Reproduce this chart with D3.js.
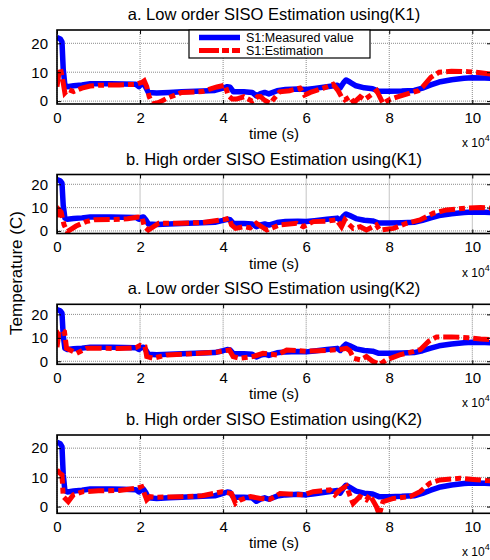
<!DOCTYPE html>
<html>
<head>
<meta charset="utf-8">
<script src="https://cdn.jsdelivr.net/npm/d3@7"></script>
<style>
  html, body { margin: 0; padding: 0; background: #fff; }
  svg { display: block; font-family: "Liberation Sans", Arial, sans-serif; }
</style>
</head>
<body>
<svg id="chart" width="490" height="560"></svg>
<script>
// Time axis in units of 10^4 s
const timeTicks = [0, 2, 4, 6, 8, 10];
const tempTicks = [0, 10, 20];

const panelTitles = [
  "a. Low order SISO Estimation using(K1)",
  "b. High order SISO Estimation using(K1)",
  "a. Low order SISO Estimation using(K2)",
  "b. High order SISO Estimation using(K2)"
];
const panelYLimits = [[-1, 24.6], [-1.1, 24.2], [-1.3, 24.3], [-2.3, 24.5]];

// S1 measured temperature (shared by every panel)
const measuredTime = [0, 0.08, 0.12, 0.15, 0.19, 0.25, 0.4, 0.6, 0.8, 1.0, 1.3, 1.6, 1.9, 1.97, 2.03, 2.08, 2.13, 2.2, 2.4, 2.7, 3.0, 3.5, 3.8, 4.0, 4.1, 4.17, 4.25, 4.5, 4.7, 4.8, 4.9, 5.0, 5.1, 5.3, 5.5, 5.8, 6.0, 6.2, 6.5, 6.75, 6.82, 6.9, 6.96, 7.05, 7.2, 7.4, 7.6, 7.75, 8.0, 8.3, 8.6, 8.8, 9.0, 9.2, 9.5, 9.8, 10.0, 10.3, 10.6];
const measuredTemp = [22, 21.5, 20.5, 11, 5.5, 5, 5.3, 5.6, 6, 6, 6, 5.9, 5.8, 5, 5.8, 6, 5, 3, 2.8, 3, 3.2, 3.5, 3.7, 4.5, 5, 4.8, 3.2, 3.2, 3, 1.8, 2.6, 3, 2.5, 3.6, 4, 4.2, 4, 4.4, 5, 5.5, 4.6, 6.4, 7.3, 6.6, 5.3, 4.6, 4.3, 3.4, 3.4, 3.5, 3.7, 4.5, 5.6, 6.6, 7.4, 7.9, 8.1, 8, 7.8];

// S1 estimation, low order, K1
const estLowK1Time = [0, 0.04, 0.08, 0.13, 0.19, 0.27, 0.4, 0.6, 0.8, 1.0, 1.5, 1.9, 2.05, 2.1, 2.16, 2.22, 2.3, 2.45, 2.65, 3.0, 3.5, 3.85, 4.05, 4.12, 4.22, 4.32, 4.5, 4.7, 4.83, 4.9, 5.0, 5.13, 5.36, 5.6, 5.85, 5.96, 6.1, 6.4, 6.65, 6.77, 6.85, 6.93, 7.05, 7.15, 7.3, 7.4, 7.55, 7.7, 7.85, 8.0, 8.2, 8.5, 8.7, 8.8, 9.0, 9.2, 9.5, 9.9, 10.2, 10.6];
const estLowK1Temp = [5, 9, 11.4, 8, 2.8, 4, 3.3, 4.5, 5.2, 5.5, 5.6, 5.8, 6.5, 7, 5, 1.5, -1, -0.5, 1, 3, 3.3, 4.9, 5.5, 2, 0.7, 0.7, 1.5, 0, 1.5, 1.6, 0.3, -0.8, 3.2, 3.6, 4.5, 2.1, 3, 4.4, 5.8, 3.6, 1.5, 0.4, 1.5, -0.5, 1.5, 0.5, 2, 3.6, -0.8, 0.5, 1.5, 2.8, 3.6, 4.8, 8.2, 10, 10.3, 10.2, 9.8, 9];

// S1 estimation, high order, K1
const estHighK1Time = [0, 0.05, 0.1, 0.17, 0.25, 0.46, 0.7, 0.9, 1.3, 1.7, 1.95, 2.05, 2.1, 2.2, 2.45, 3.0, 3.5, 3.85, 4.05, 4.15, 4.2, 4.3, 4.5, 4.65, 4.8, 5.05, 5.37, 5.77, 5.93, 6.17, 6.5, 6.73, 6.85, 6.93, 7.0, 7.13, 7.3, 7.45, 7.69, 7.77, 8.1, 8.42, 8.74, 9.06, 9.38, 9.86, 10.2, 10.6];
const estHighK1Temp = [6, 9, 8, 2.6, -0.3, 2.1, 4, 4.8, 4.9, 5.2, 6, 5.8, 2, 0.4, 3.3, 3.3, 3.6, 4.5, 5, 5.5, 2.6, 1.1, 1.8, 1.3, 3.3, 0.4, 2.6, 3.3, 1.8, 4, 4.2, 4.8, 1.8, 4.8, 3.3, 1.1, 1.8, 0.4, 2.6, 0.4, 1.1, 3.3, 4.7, 7.6, 9, 9.8, 10, 9.6];

// S1 estimation, low order, K2
const estLowK2Time = [0, 0.05, 0.12, 0.18, 0.23, 0.35, 0.47, 0.71, 1.0, 1.5, 1.9, 2.0, 2.12, 2.16, 2.32, 2.64, 3.0, 3.5, 3.85, 4.15, 4.24, 4.4, 4.72, 4.96, 5.3, 5.53, 6.0, 6.5, 6.8, 6.97, 7.05, 7.14, 7.3, 7.45, 7.6, 7.77, 7.93, 8.25, 8.57, 8.75, 8.95, 9.14, 9.5, 9.9, 10.2, 10.6];
const estLowK2Temp = [6, 12.5, 13.3, 12.6, 5.5, 4.5, 3.4, 5.5, 5.6, 5.4, 5.8, 6.8, 6.2, 2, 1.3, 2.7, 3, 3.5, 3.9, 4.8, 2, 1.3, 2, 3.4, 2.7, 4.8, 4.3, 4.6, 5, 5.5, 4.5, 1.3, 0.6, 2, 0, -1.4, 0.6, 2.7, 4.1, 5, 8.5, 10.4, 10.4, 10, 9.5, 9];

// S1 estimation, high order, K2
const estHighK2Time = [0, 0.06, 0.12, 0.15, 0.27, 0.39, 0.63, 1.0, 1.5, 1.92, 2.04, 2.16, 2.24, 2.4, 3.0, 3.5, 3.97, 4.2, 4.3, 4.42, 4.66, 4.9, 5.13, 5.37, 5.93, 6.17, 6.57, 6.69, 6.81, 6.97, 7.09, 7.13, 7.29, 7.45, 7.53, 7.69, 7.76, 7.85, 8.1, 8.5, 8.74, 8.98, 9.22, 9.7, 10.1, 10.6];
const estHighK2Temp = [12.6, 11.5, 10.9, 3.4, 1.7, 4, 5.1, 5.4, 5.5, 6.3, 6.8, 2.3, 3.4, 3.2, 3.4, 3.7, 5.1, 4.5, 1.1, 2.3, 3.4, 2.8, 2.5, 4.5, 4, 5.1, 5.7, 4, 5.7, 7, 2.3, 1.1, 3.4, 2.3, 4, 0, -2.8, 1.7, 2.8, 3.4, 5.1, 8, 9.1, 9.7, 9.2, 8.6];

const estimations = [
  { t: estLowK1Time, v: estLowK1Temp },
  { t: estHighK1Time, v: estHighK1Temp },
  { t: estLowK2Time, v: estLowK2Temp },
  { t: estHighK2Time, v: estHighK2Temp }
];

// Panel frames on the page
const frames = [
  { top: 30, bottom: 104 },
  { top: 174.5, bottom: 233.5 },
  { top: 304.3, bottom: 364.3 },
  { top: 435, bottom: 513.3 }
];
const left = 57, right = 491;
const xMax = 10.45;

const svg = d3.select("#chart");
const x = d3.scaleLinear().domain([0, xMax]).range([left, right]);

const lineFor = (y) => d3.line().x(d => x(d[0])).y(d => y(d[1]));

frames.forEach((f, i) => {
  const y = d3.scaleLinear().domain(panelYLimits[i]).range([f.bottom, f.top]);
  const g = svg.append("g");
  const clipId = "clip" + i;
  svg.append("clipPath").attr("id", clipId)
    .append("rect").attr("x", left).attr("y", f.top)
    .attr("width", right - left).attr("height", f.bottom - f.top);

  // grid
  g.append("g").selectAll("line").data(timeTicks).join("line")
    .attr("x1", d => x(d)).attr("x2", d => x(d))
    .attr("y1", f.top).attr("y2", f.bottom)
    .attr("stroke", "#8a8a8a").attr("stroke-width", 1).attr("stroke-dasharray", "1,1");
  g.append("g").selectAll("line").data(tempTicks).join("line")
    .attr("x1", left).attr("x2", right)
    .attr("y1", d => y(d)).attr("y2", d => y(d))
    .attr("stroke", "#8a8a8a").attr("stroke-width", 1).attr("stroke-dasharray", "1,1");

  // series
  const measured = measuredTime.map((t, k) => [t, measuredTemp[k]]);
  const est = estimations[i].t.map((t, k) => [t, estimations[i].v[k]]);
  const series = g.append("g").attr("clip-path", `url(#${clipId})`);
  series.append("path").datum(measured)
    .attr("d", lineFor(y)).attr("fill", "none")
    .attr("stroke", "#0000ff").attr("stroke-width", 5.5)
    .attr("stroke-linejoin", "round");
  series.append("path").datum(est)
    .attr("d", lineFor(y)).attr("fill", "none")
    .attr("stroke", "#ff0000").attr("stroke-width", 5)
    .attr("stroke-dasharray", "16,4,6,4");

  // axes with inward ticks
  const xb = d3.axisBottom(x).tickValues(timeTicks).tickSize(-4).tickPadding(9).tickFormat(d3.format("d"));
  const xt = d3.axisTop(x).tickValues(timeTicks).tickSize(-4).tickFormat("");
  const yl = d3.axisLeft(y).tickValues(tempTicks).tickSize(-4).tickPadding(9);
  const yr = d3.axisRight(y).tickValues(tempTicks).tickSize(-4).tickFormat("");

  const styleAxis = (sel) => {
    sel.select(".domain").remove();
    sel.selectAll(".tick line").attr("stroke", "#000").attr("stroke-width", 1);
    sel.selectAll("text").attr("fill", "#000").attr("font-size", 15)
      .attr("font-family", "Liberation Sans, Arial, sans-serif");
  };
  g.append("g").attr("transform", `translate(0,${f.bottom})`).call(xb).call(styleAxis)
    .selectAll("text").attr("dy", null).attr("y", 18.5);
  g.append("g").attr("transform", `translate(0,${f.top})`).call(xt).call(styleAxis);
  g.append("g").attr("transform", `translate(${left},0)`).call(yl).call(styleAxis);
  g.append("g").attr("transform", `translate(${right},0)`).call(yr).call(styleAxis);

  // frame
  g.append("rect").attr("x", left).attr("y", f.top)
    .attr("width", right - left).attr("height", f.bottom - f.top)
    .attr("fill", "none").attr("stroke", "#000").attr("stroke-width", 1.6);

  // title
  g.append("text").attr("x", (left + right) / 2).attr("y", f.top - 10)
    .attr("text-anchor", "middle").attr("font-size", 16.5).text(panelTitles[i]);

  // x label and exponent
  g.append("text").attr("x", (left + right) / 2).attr("y", f.bottom + 35)
    .attr("text-anchor", "middle").attr("font-size", 15).text("time (s)");
  const ex = g.append("text").attr("x", 462).attr("y", f.bottom + 43).attr("font-size", 12);
  ex.append("tspan").text("x 10");
  ex.append("tspan").attr("font-size", 9).attr("dy", -6).text("4");
});

// y label
svg.append("text")
  .attr("transform", "translate(22,273) rotate(-90)")
  .attr("text-anchor", "middle").attr("font-size", 17)
  .text("Temperature (C)");

// legend (first panel)
const legendItems = ["S1:Measured value", "S1:Estimation"];
const lg = svg.append("g");
lg.append("rect").attr("x", 189).attr("y", 30).attr("width", 181).attr("height", 28)
  .attr("fill", "#fff").attr("stroke", "#000").attr("stroke-width", 1.2);
legendItems.forEach((name, k) => {
  const yy = 37.5 + k * 13;
  lg.append("line").attr("x1", 199).attr("x2", 240).attr("y1", yy).attr("y2", yy)
    .attr("stroke", k === 0 ? "#0000ff" : "#ff0000").attr("stroke-width", k === 0 ? 5.5 : 5)
    .attr("stroke-dasharray", k === 0 ? null : "20,3,7,3");
  lg.append("text").attr("x", 246).attr("y", yy + 4.3).attr("font-size", 12.5).text(name);
});
</script>
</body>
</html>
